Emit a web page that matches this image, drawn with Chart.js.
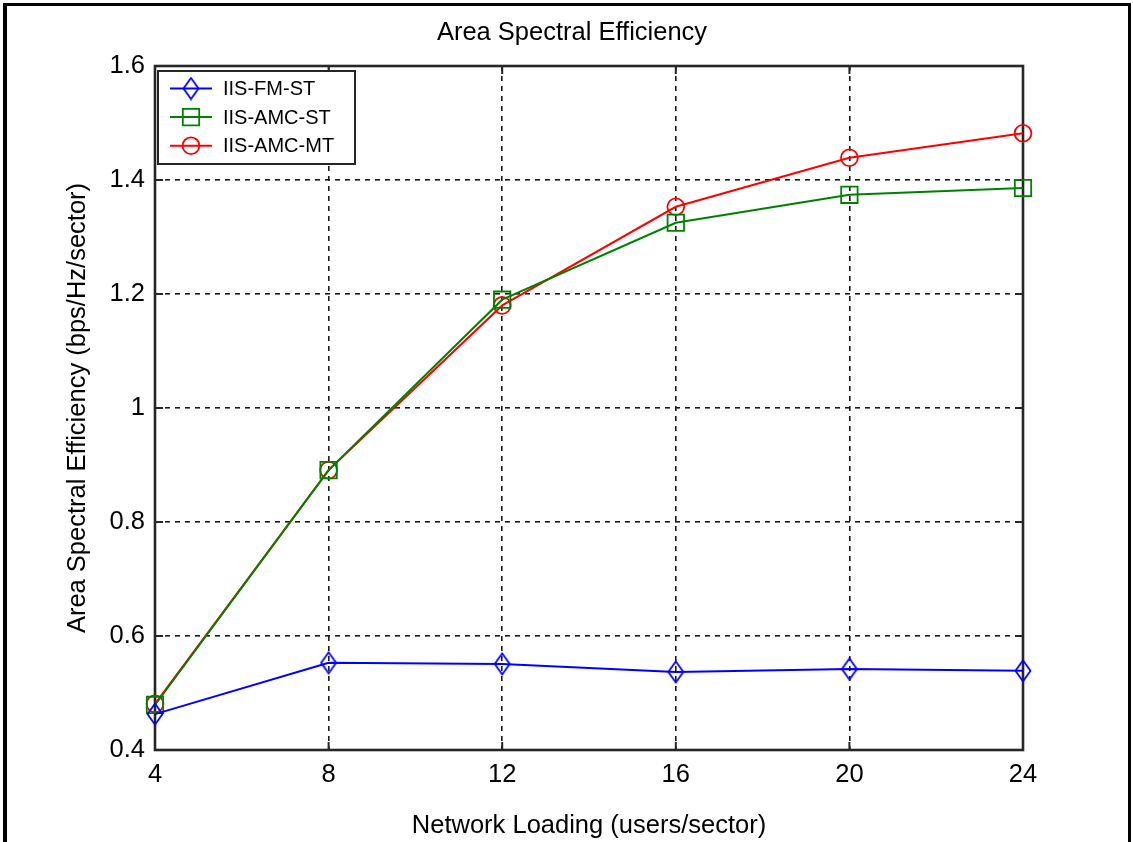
<!DOCTYPE html>
<html>
<head>
<meta charset="utf-8">
<title>Area Spectral Efficiency</title>
<script src="https://cdn.jsdelivr.net/npm/chart.js@4.4.0/dist/chart.umd.min.js"></script>
<style>
  html, body { margin: 0; padding: 0; background: #fff; }
  #wrap { position: relative; width: 1133px; height: 842px; overflow: hidden; }
  /* figure window edge */
  #edge { position: absolute; left: 3px; top: 3px; width: 1121px; height: 900px;
          border: 3px solid #000; border-left-width: 4px; }
  #plot { position: absolute; left: 0; top: 0; }
</style>
</head>
<body>
<div id="wrap">
  <div id="edge"></div>
  <canvas id="plot" width="1133" height="842"></canvas>
</div>
<script>
// --- data ---
const loads = [4, 8, 12, 16, 20, 24];                         // users/sector
const fmST  = [0.463, 0.553, 0.551, 0.537, 0.542, 0.539];
const amcST = [0.479, 0.891, 1.190, 1.325, 1.374, 1.386];
const amcMT = [0.481, 0.891, 1.180, 1.353, 1.439, 1.482];
const seriesNames = ['IIS-FM-ST', 'IIS-AMC-ST', 'IIS-AMC-MT'];

const xTickValues = [4, 8, 12, 16, 20, 24];
const xTickLabels = ['4', '8', '12', '16', '20', '24'];
const yTickValues = [0.4, 0.6, 0.8, 1.0, 1.2, 1.4, 1.6];
const yTickLabels = ['0.4', '0.6', '0.8', '1', '1.2', '1.4', '1.6'];

const titleText = 'Area Spectral Efficiency';
const xTitle = 'Network Loading (users/sector)';
const yTitle = 'Area Spectral Efficiency (bps/Hz/sector)';

const FONT = "'Liberation Sans', Arial, sans-serif";
const AXIS_COLOR = '#262626';

// tall hollow diamond, like the matlab 'd' marker
function makeDiamond(color) {
    const c = document.createElement('canvas');
    c.width = 18; c.height = 24;
    const g = c.getContext('2d');
    g.strokeStyle = color;
    g.lineWidth = 1.8;
    g.beginPath();
    g.moveTo(9, 1.5); g.lineTo(16.5, 12); g.lineTo(9, 22.5); g.lineTo(1.5, 12);
    g.closePath();
    g.stroke();
    return c;
}

function series(label, ys, color, pointStyle, radius) {
    return {
        label: label,
        data: loads.map((x, i) => ({ x: x, y: ys[i] })),
        borderColor: color,
        borderWidth: 2,
        pointStyle: pointStyle,
        pointRadius: radius,
        pointHoverRadius: radius,
        pointBorderColor: color,
        pointBackgroundColor: 'rgba(0,0,0,0)',
        pointBorderWidth: 1.8,
        tension: 0,
        clip: false
    };
}

// --- plugins ---
// figure title, centred the way the original figure has it
const titlePlugin = {
    id: 'figTitle',
    afterDraw(chart) {
        const ctx = chart.ctx;
        ctx.save();
        ctx.font = '25.5px ' + FONT;
        ctx.fillStyle = '#000';
        ctx.textAlign = 'center';
        ctx.textBaseline = 'middle';
        ctx.fillText(titleText, 572, 33);
        ctx.restore();
    }
};

// solid box round the axes plus inward tick marks on all four sides
const boxPlugin = {
    id: 'axesBox',
    beforeDatasetsDraw(chart) {
        const { ctx, chartArea: a, scales } = chart;
        const tl = 8;
        ctx.save();
        ctx.strokeStyle = AXIS_COLOR;
        ctx.lineWidth = 2;
        ctx.beginPath();
        xTickValues.forEach(v => {
            const px = scales.x.getPixelForValue(v);
            ctx.moveTo(px, a.bottom); ctx.lineTo(px, a.bottom - tl);
            ctx.moveTo(px, a.top);    ctx.lineTo(px, a.top + tl);
        });
        yTickValues.forEach(v => {
            const py = scales.y.getPixelForValue(v);
            ctx.moveTo(a.left, py);  ctx.lineTo(a.left + tl, py);
            ctx.moveTo(a.right, py); ctx.lineTo(a.right - tl, py);
        });
        ctx.stroke();
        ctx.lineWidth = 2.6;
        ctx.strokeRect(a.left, a.top, a.right - a.left, a.bottom - a.top);
        ctx.restore();
    }
};

function drawMarker(ctx, ds, x, y) {
    const st = ds.pointStyle;
    if (typeof st === 'object') {
        ctx.drawImage(st, x - st.width / 2, y - st.height / 2);
        return;
    }
    ctx.strokeStyle = ds.pointBorderColor;
    ctx.lineWidth = ds.pointBorderWidth;
    ctx.beginPath();
    if (st === 'rect') {
        const s = Math.SQRT1_2 * ds.pointRadius;
        ctx.rect(x - s, y - s, 2 * s, 2 * s);
    } else {
        ctx.arc(x, y, ds.pointRadius, 0, Math.PI * 2);
    }
    ctx.stroke();
}

// matlab-style legend box in the upper-left corner of the axes
const legendPlugin = {
    id: 'boxLegend',
    afterDatasetsDraw(chart) {
        const { ctx, chartArea: a } = chart;
        const left = a.left + 3, top = a.top + 5, w = 197, h = 93;
        ctx.save();
        ctx.fillStyle = '#fff';
        ctx.fillRect(left, top, w, h);
        ctx.strokeStyle = AXIS_COLOR;
        ctx.lineWidth = 2;
        ctx.strokeRect(left, top, w, h);
        ctx.font = '20px ' + FONT;
        ctx.textBaseline = 'middle';
        chart.data.datasets.forEach((ds, i) => {
            const y = top + 17.5 + i * 28.6;
            ctx.strokeStyle = ds.borderColor;
            ctx.lineWidth = 2;
            ctx.beginPath();
            ctx.moveTo(left + 12, y);
            ctx.lineTo(left + 54, y);
            ctx.stroke();
            drawMarker(ctx, ds, left + 33, y);
            ctx.fillStyle = '#000';
            ctx.fillText(ds.label, left + 65, y + 1);
        });
        ctx.restore();
    }
};

const gridOpts = { color: '#1a1a1a', lineWidth: 1.6, drawTicks: false };
const borderOpts = { display: false, dash: [5, 5] };
const tickFont = { family: FONT, size: 25.5 };

new Chart(document.getElementById('plot'), {
    type: 'line',
    data: {
        datasets: [
            series(seriesNames[0], fmST,  '#0000ff', makeDiamond('#0000ff'), 10),
            series(seriesNames[1], amcST, '#008000', 'rect', 11.6),
            series(seriesNames[2], amcMT, '#ff0000', 'circle', 8.4)
        ]
    },
    options: {
        responsive: false,
        animation: false,
        events: [],
        layout: { padding: { left: 0, right: 110, top: 66, bottom: 0 } },
        plugins: {
            legend: { display: false },
            tooltip: { enabled: false },
            title: { display: false }
        },
        scales: {
            x: {
                type: 'linear',
                min: 4, max: 24,
                afterBuildTicks: s => { s.ticks = xTickValues.map(v => ({ value: v })); },
                afterFit: s => { s.height = 92; },
                grid: gridOpts,
                border: borderOpts,
                ticks: {
                    color: '#000', font: tickFont, padding: 10, maxRotation: 0,
                    callback: (v, i) => xTickLabels[i]
                },
                title: {
                    display: true, text: xTitle, color: '#000',
                    font: { family: FONT, size: 25.5 },
                    padding: { top: 0, bottom: 1 }
                }
            },
            y: {
                type: 'linear',
                min: 0.4, max: 1.6,
                afterBuildTicks: s => { s.ticks = yTickValues.map(v => ({ value: v })); },
                afterFit: s => { s.width = 155; },
                grid: gridOpts,
                border: borderOpts,
                ticks: {
                    color: '#000', font: tickFont, padding: 10,
                    callback: (v, i) => yTickLabels[i]
                },
                title: {
                    display: true, text: yTitle, color: '#000',
                    font: { family: FONT, size: 25.5 },
                    padding: { top: 63, bottom: 0 }
                }
            }
        }
    },
    plugins: [boxPlugin, legendPlugin, titlePlugin]
});
</script>
</body>
</html>
